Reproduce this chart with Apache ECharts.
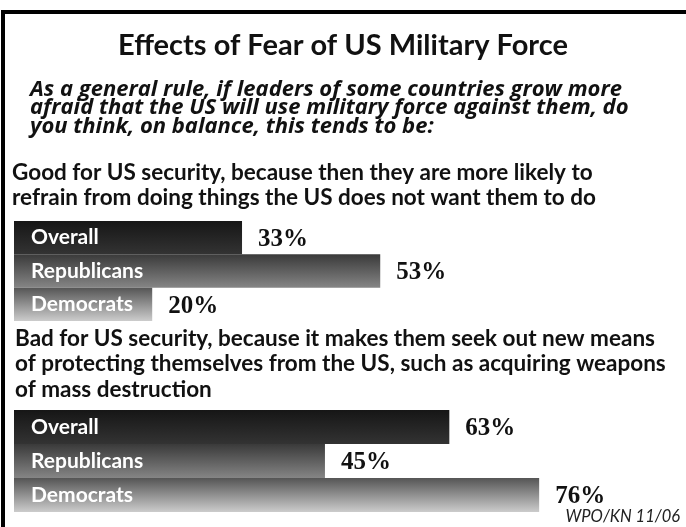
<!DOCTYPE html>
<html>
<head>
<meta charset="utf-8">
<script src="https://cdn.jsdelivr.net/npm/echarts@6/dist/echarts.min.js"></script>
<style>
html,body{margin:0;padding:0;background:#fff;}
#chart{width:686px;height:527px;}
</style>
</head>
<body>
<div id="chart"></div>
<script>
const categories = ['Overall', 'Republicans', 'Democrats'];
const goodValues = [33, 53, 20];
const badValues = [63, 45, 76];

const titleText = 'Effects of Fear of US Military Force';
const questionText = 'As a general rule, if leaders of some countries grow more\nafraid that the US will use military force against them, do\nyou think, on balance, this tends to be:';
const goodText = 'Good for US security, because then they are more likely to\nrefrain from doing things the US does not want them to do';
const badText = 'Bad for US security, because it makes them seek out new means\nof protecting themselves from the US, such as acquiring weapons\nof mass destruction';
const sourceText = 'WPO/KN 11/06';

const SANS = 'Lato, "Open Sans", sans-serif';
const gradients = [
  ['#161616', '#333333'],
  ['#3a3a3a', '#858585'],
  ['#555555', '#cccccc']
];
function grad(i) {
  return new echarts.graphic.LinearGradient(0, 0, 0, 1, [
    {offset: 0, color: gradients[i][0]},
    {offset: 1, color: gradients[i][1]}
  ]);
}
function seriesData(vals) {
  return vals.map((v, i) => ({value: v, itemStyle: {color: grad(i)}}));
}

const chart = echarts.init(document.getElementById('chart'), null, {renderer: 'canvas'});
const gridW = 621.9;
const xAx = (gi) => ({gridIndex: gi, type: 'value', min: 0, max: 90, show: false});
const yAx = (gi) => ({
  gridIndex: gi, type: 'category', data: categories, inverse: true,
  axisLine: {show: false}, axisTick: {show: false}, splitLine: {show: false},
  axisLabel: {inside: true, margin: 17, color: '#ffffff', fontFamily: SANS, fontWeight: 'bold', fontSize: 21},
  z: 10
});
const valueLabel = {
  show: true, position: 'right', distance: 16, offset: [0, 2],
  formatter: '{c}%', color: '#111', fontFamily: '"Liberation Serif", "Times New Roman", serif',
  fontWeight: 'bold', fontSize: 25
};

chart.setOption({
  backgroundColor: '#ffffff',
  animation: false,
  title: [
    {text: titleText, left: 'center', top: 31, padding: 0, textStyle: {fontFamily: SANS, fontWeight: 'bold', fontSize: 29, color: '#111'}},
    {text: questionText, left: 30, top: 80, padding: 0, textStyle: {fontFamily: '"Open Sans", Lato, sans-serif', fontStyle: 'italic', fontWeight: 'bold', fontSize: 22, lineHeight: 18.5, color: '#111'}},
    {text: goodText, left: 12, top: 160, padding: 0, textStyle: {fontFamily: SANS, fontWeight: 'bold', fontSize: 22.5, lineHeight: 25, color: '#111'}},
    {text: badText, left: 15, top: 325.5, padding: 0, textStyle: {fontFamily: SANS, fontWeight: 'bold', fontSize: 22.5, lineHeight: 25.5, color: '#111'}},
    {text: sourceText, right: 6, top: 508, padding: 0, textStyle: {fontFamily: SANS, fontStyle: 'italic', fontWeight: 'normal', fontSize: 16.5, color: '#222'}}
  ],
  graphic: [
    {type: 'rect', shape: {x: 1, y: 10, width: 685, height: 4}, style: {fill: '#000'}},
    {type: 'rect', shape: {x: 1, y: 10, width: 4, height: 517}, style: {fill: '#000'}}
  ],
  grid: [
    {left: 14, top: 221, width: gridW, height: 100},
    {left: 14, top: 410, width: gridW, height: 102}
  ],
  xAxis: [xAx(0), xAx(1)],
  yAxis: [yAx(0), yAx(1)],
  series: [
    {type: 'bar', xAxisIndex: 0, yAxisIndex: 0, barWidth: '100%', data: seriesData(goodValues), label: valueLabel},
    {type: 'bar', xAxisIndex: 1, yAxisIndex: 1, barWidth: '100%', data: seriesData(badValues), label: valueLabel}
  ]
});
</script>
</body>
</html>
